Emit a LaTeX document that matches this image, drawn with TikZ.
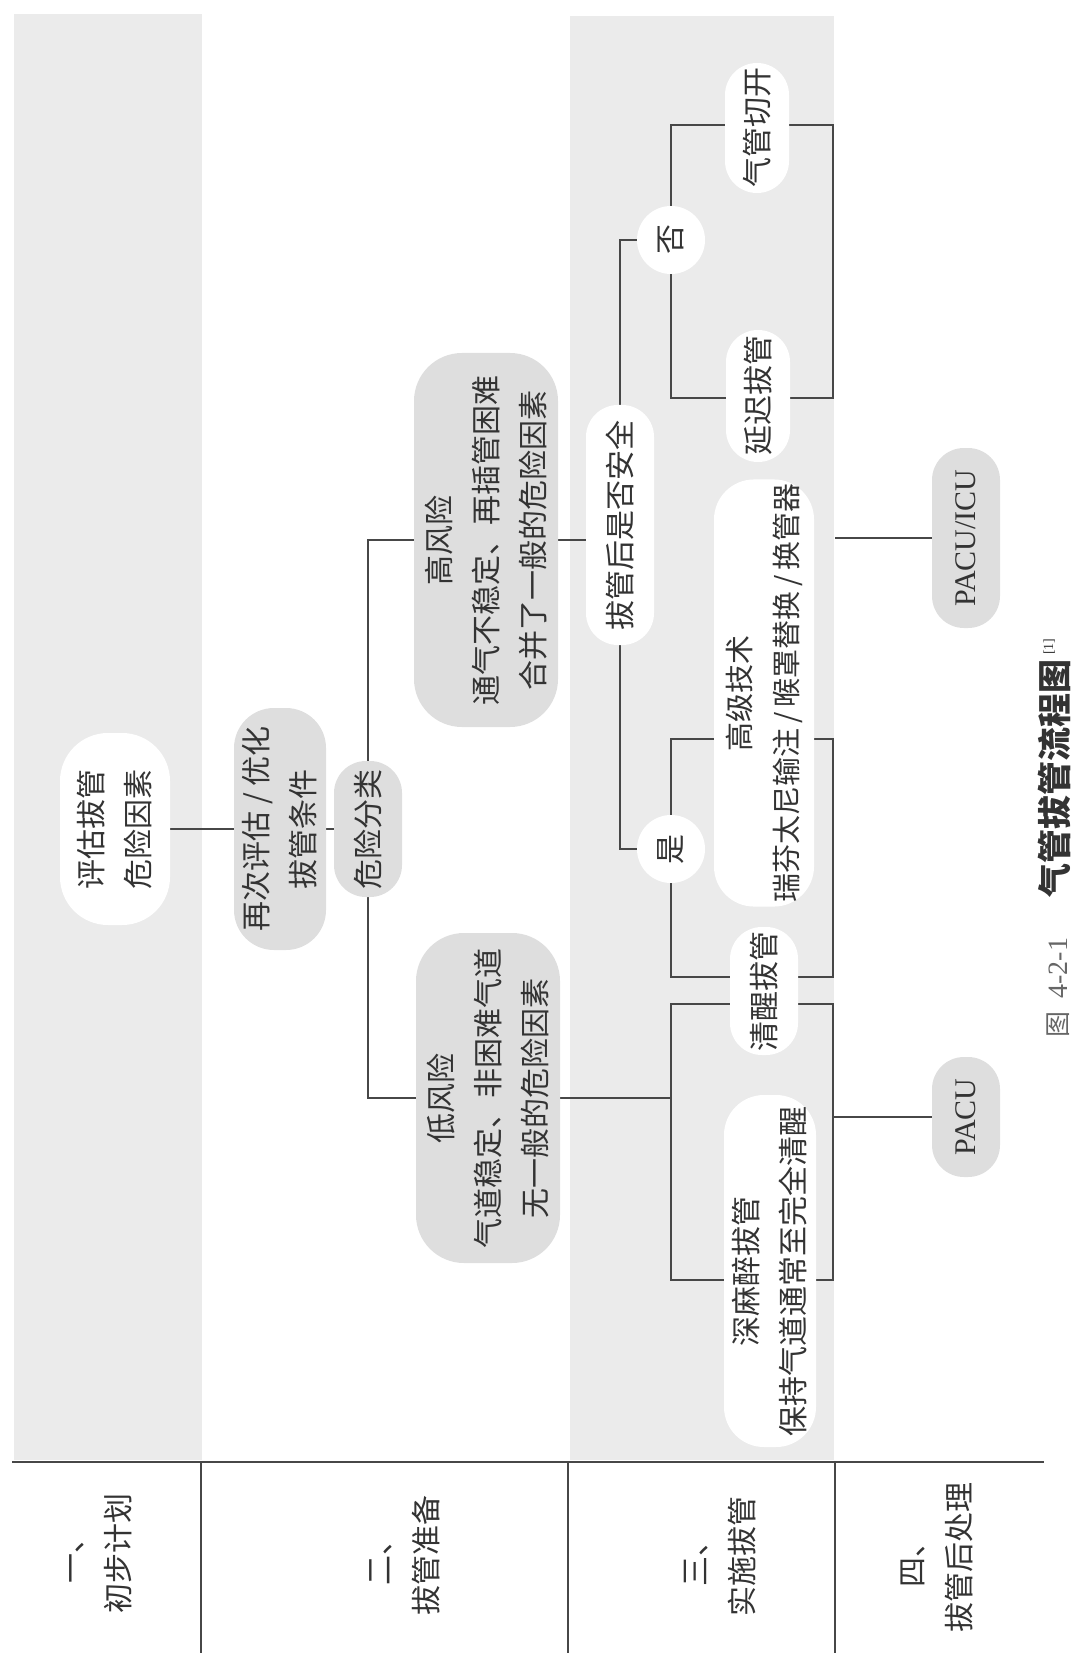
\documentclass[tikz,border=0pt]{standalone}
\usepackage{fontspec}
\setmainfont{Liberation Serif}
\newfontfamily\cjk{Noto Sans CJK SC}
\pgfdeclarelayer{bands}
\pgfdeclarelayer{links}
\pgfsetlayers{bands,links,main}

\begin{document}
\begin{tikzpicture}[x=0.5pt,y=-0.5pt,
  every node/.style={font=\cjk\fontsize{15}{23.5}\selectfont,text=black!80,align=center,rotate=90,inner sep=2pt},
  blob/.style={rounded corners=16pt,fill=#1},blob/.default=white,
  latin/.style={font=\rmfamily\fontsize{15}{18}\selectfont},
  link/.style={draw=black!72,line width=1pt}]
\useasboundingbox (0,0) rectangle (1082,1668);
\begin{pgfonlayer}{bands}
\fill[black!8] (14,14) rectangle (202,1460);
\fill[black!8] (570,16) rectangle (834,1460);
\end{pgfonlayer}
\node[blob,rounded corners=24pt,minimum width=96pt,minimum height=55pt] (eval) at (115,829) {评估拔管\\危险因素};
\node[blob=black!13,rounded corners=20pt,minimum width=121pt,minimum height=46pt] (reeval) at (280,829) {再次评估 / 优化\\拔管条件};
\node[blob=black!13,minimum width=68pt,minimum height=34pt] (class) at (368,829) {危险分类};
\node[blob=black!13,rounded corners=24pt,minimum width=187pt,minimum height=72pt] (high) at (486,540) {高风险\\通气不稳定、再插管困难\\合并了一般的危险因素};
\node[blob=black!13,rounded corners=24pt,minimum width=165pt,minimum height=72pt] (low) at (488,1098) {低风险\\气道稳定、非困难气道\\无一般的危险因素};
\node[blob,minimum width=120pt,minimum height=34pt] (safe) at (620,525) {拔管后是否安全};
\node[circle,fill=white,minimum size=34pt] (no) at (671,240) {否};
\node[circle,fill=white,minimum size=34pt] (yes) at (671,849) {是};
\node[blob,minimum width=65pt,minimum height=32pt] (tracheo) at (757,128) {气管切开};
\node[blob,minimum width=66pt,minimum height=32pt] (delay) at (758,396) {延迟拔管};
\node[blob,rounded corners=20pt,font=\cjk\fontsize{14.5}{23.5}\selectfont,minimum width=212pt,minimum height=50pt] (adv) at (764,693) {高级技术\\瑞芬太尼输注\,/\,喉罩替换\,/\,换管器};
\node[blob,minimum width=62pt,minimum height=34pt] (awake) at (764,991) {清醒拔管};
\node[blob,rounded corners=20pt,minimum width=176pt,minimum height=46pt] (deep) at (770,1271) {深麻醉拔管\\保持气道通常至完全清醒};
\node[blob=black!13,latin,minimum width=90pt,minimum height=34pt] (icu) at (966,538) {PACU/ICU};
\node[blob=black!13,latin,minimum width=60pt,minimum height=34pt] (pacu) at (966,1117) {PACU};
\node (sec1) at (101,1553) {一、\\初步计划};
\node (sec2) at (405,1555) {二、\\拔管准备};
\node (sec3) at (720,1556) {三、\\实施拔管};
\node (sec4) at (937,1557) {四、\\拔管后处理};
\node (title) at (1054,838) {{\color{black!60}\fontsize{13}{16}\selectfont 图\enspace{\rmfamily\fontsize{14}{16}\selectfont 4-2-1}}\hspace{20pt}{\bfseries\fontsize{17}{20}\selectfont 气管拔管流程图}\,\raisebox{7pt}{\rmfamily\fontsize{7}{8}\selectfont[1]}};
\begin{pgfonlayer}{links}
\coordinate (noTL) at (671,125);
\coordinate (noBR) at (833,398);
\coordinate (yesTL) at (671,739);
\coordinate (yesBR) at (833,977);
\coordinate (lowTL) at (671,1004);
\coordinate (lowBR) at (833,1280);
\coordinate (icuend) at (835,538);
\draw[link] (eval) -- (reeval) -- (class);
\draw[link] (class) |- (high);
\draw[link] (class) |- (low);
\draw[link] (high) -- (high -| safe);
\draw[link] (safe) |- (no);
\draw[link] (safe) |- (yes);
\draw[link] (noTL) rectangle (noBR);
\draw[link] (yesTL) rectangle (yesBR);
\draw[link] (lowTL) rectangle (lowBR);
\draw[link] (low) -- (low -| lowTL);
\draw[link] (lowBR |- pacu) -- (pacu);
\draw[link] (icuend) -- (icu);
\draw[link] (12,1462) -- (1044,1462);
\draw[link] (201,1462) -- (201,1653);
\draw[link] (568,1462) -- (568,1653);
\draw[link] (835,1462) -- (835,1653);
\end{pgfonlayer}
\end{tikzpicture}
\end{document}
